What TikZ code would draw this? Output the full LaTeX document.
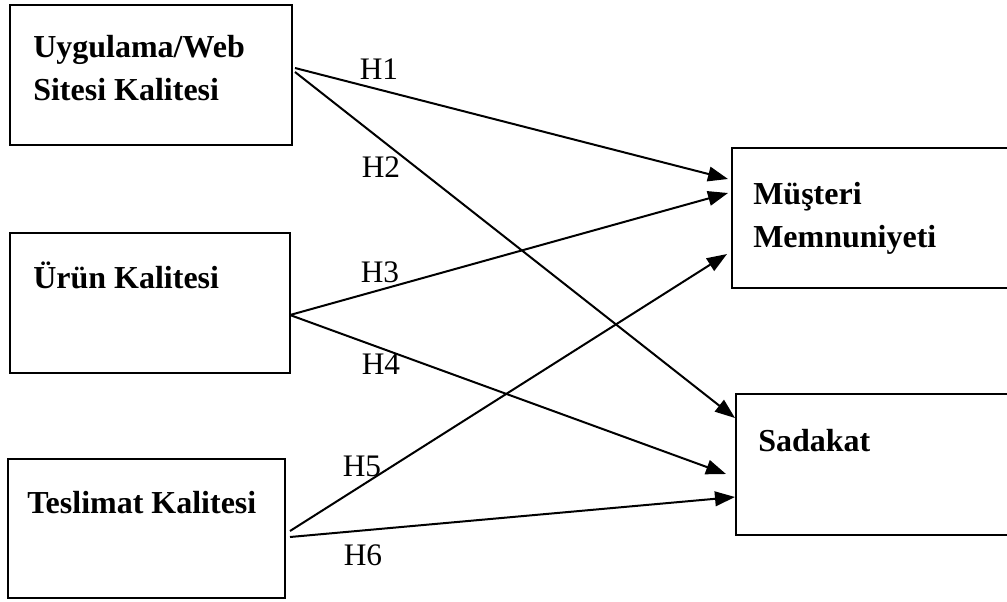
\documentclass[tikz,border=0pt]{standalone}
\usepackage{fontspec}
\setmainfont{Liberation Serif}
\usetikzlibrary{arrows.meta,calc}
\begin{document}
\begin{tikzpicture}[x=0.75pt,y=-0.75pt,
  box/.style={draw,line width=1.6pt,rectangle,inner sep=0pt,outer sep=0pt},
  boxtext/.style={anchor=base west,inner sep=0pt,align=left,
    font=\fontsize{24}{32.25}\selectfont\bfseries},
  hlabel/.style={inner sep=0pt,font=\fontsize{23.5}{28}\selectfont},
  link/.style={line width=1.5pt,-{Triangle[length=15pt,width=11pt]}}]
\clip (0,0) rectangle (1007,601);
\useasboundingbox (0,0) rectangle (1007,601);

% construct boxes
\node[box,minimum width=211.5pt,minimum height=105pt] (b1) at (151,75) {};
\node[box,minimum width=210pt,minimum height=105pt] (b2) at (150,303) {};
\node[box,minimum width=207.75pt,minimum height=104.25pt] (b3) at (146.5,528.5) {};
\node[box,minimum width=212.25pt,minimum height=105pt] (b4) at (873.5,218) {};
\node[box,minimum width=209.25pt,minimum height=105.75pt] (b5) at (875.5,464.5) {};

% box captions (base anchor sits on the last line)
\node[boxtext] (t1) at (33,100) {Uygulama/Web\\Sitesi Kalitesi};
\node[boxtext] (t2) at (33,288) {Ürün Kalitesi};
\node[boxtext] (t3) at (27,513) {Teslimat Kalitesi};
\node[boxtext] (t4) at (753,247) {Müşteri\\Memnuniyeti};
\node[boxtext] (t5) at (758,451) {Sadakat};

% hypothesis paths
\draw[link] ($(b1.east)+(3,-7)$) -- ($(b4.west)+(-4,-39)$);
\draw[link] ($(b1.east)+(3,-3)$) -- ($(b5.west)+(-1,-46.5)$);
\draw[link] ($(b2.east)+(0,12)$) -- ($(b4.west)+(-4,-25)$);
\draw[link] ($(b2.east)+(0,12)$) -- ($(b5.west)+(-10,9.5)$);
\draw[link] ($(b3.east)+(5,2.5)$) -- ($(b4.west)+(-5,36)$);
\draw[link] ($(b3.east)+(5,8.5)$) -- ($(b5.west)+(-1,32.5)$);

% hypothesis labels
\node[hlabel] (h1) at (379,69) {H1};
\node[hlabel] (h2) at (381,167) {H2};
\node[hlabel] (h3) at (380,272) {H3};
\node[hlabel] (h4) at (381,364) {H4};
\node[hlabel] (h5) at (362,466) {H5};
\node[hlabel] (h6) at (363,555) {H6};
\end{tikzpicture}
\end{document}
